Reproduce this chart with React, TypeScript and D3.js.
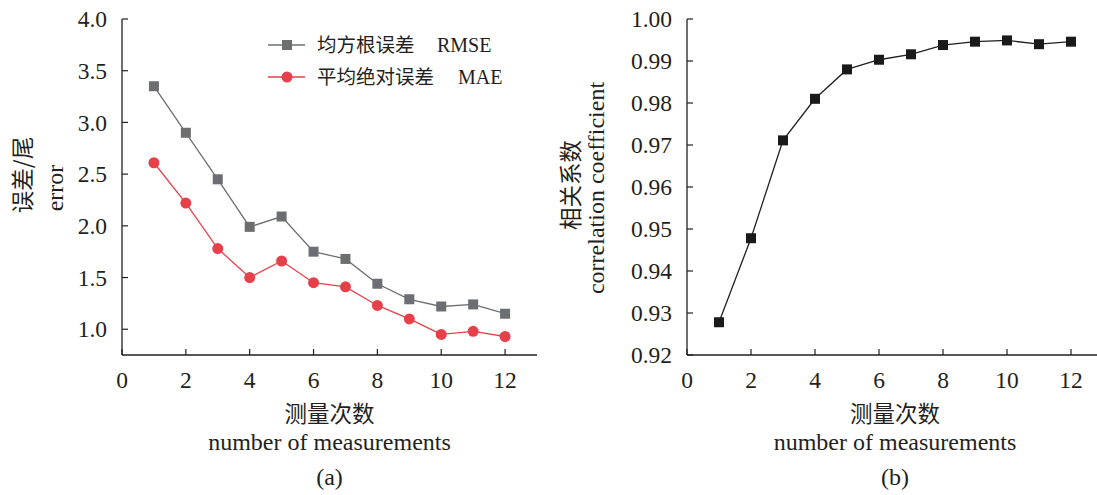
import React, { useEffect, useRef } from "react";
import * as d3 from "d3";

const counts = [1, 2, 3, 4, 5, 6, 7, 8, 9, 10, 11, 12];
const rmse = [3.35, 2.9, 2.45, 1.99, 2.09, 1.75, 1.68, 1.44, 1.29, 1.22, 1.24, 1.15];
const mae = [2.61, 2.22, 1.78, 1.5, 1.66, 1.45, 1.41, 1.23, 1.1, 0.95, 0.98, 0.93];
const corr = [0.9278, 0.9478, 0.9711, 0.981, 0.988, 0.9903, 0.9916, 0.9938, 0.9946, 0.9949, 0.994, 0.9946];

const xTicks = [0, 2, 4, 6, 8, 10, 12];
const errTicks = [1.0, 1.5, 2.0, 2.5, 3.0, 3.5, 4.0];
const corrTicks = [0.92, 0.93, 0.94, 0.95, 0.96, 0.97, 0.98, 0.99, 1.0];

const legendLabels = [
  { cn: "均方根误差", en: "RMSE" },
  { cn: "平均绝对误差", en: "MAE" },
];

const SERIF = "'Liberation Serif', 'Times New Roman', serif";
const CJK = "'Noto Sans CJK SC', sans-serif";
const INK = "#231f20";
const GRAY = "#6d6e71";
const RED = "#e8404a";

export default function App() {
  const ref = useRef<SVGSVGElement | null>(null);

  useEffect(() => {
    const svg = d3.select(ref.current);
    svg.selectAll("*").remove();

    function panel(opts: {
      x0: number; x1: number; y0: number; y1: number;
      yDomain: [number, number]; yTicks: number[]; fmt: (v: number) => string;
    }) {
      const x = d3.scaleLinear().domain([0, 13]).range([opts.x0, opts.x1]);
      const y = d3.scaleLinear().domain(opts.yDomain).range([opts.y1, opts.y0]);
      const g = svg.append("g");
      g.append("line").attr("x1", opts.x0).attr("x2", opts.x0).attr("y1", opts.y0).attr("y2", opts.y1)
        .attr("stroke", INK).attr("stroke-width", 1.3);
      g.append("line").attr("x1", opts.x0).attr("x2", opts.x1).attr("y1", opts.y1).attr("y2", opts.y1)
        .attr("stroke", INK).attr("stroke-width", 1.3);
      opts.yTicks.forEach((t) => {
        const yy = y(t);
        g.append("line").attr("x1", opts.x0).attr("x2", opts.x0 + 6).attr("y1", yy).attr("y2", yy)
          .attr("stroke", INK).attr("stroke-width", 1.2);
        g.append("text").attr("x", opts.x0 - 15).attr("y", yy).attr("dy", "0.35em")
          .attr("text-anchor", "end").attr("font-family", SERIF).attr("font-size", 23.5)
          .attr("fill", INK).text(opts.fmt(t));
      });
      xTicks.forEach((t) => {
        const xx = x(t);
        g.append("line").attr("x1", xx).attr("x2", xx).attr("y1", opts.y1).attr("y2", opts.y1 - 6)
          .attr("stroke", INK).attr("stroke-width", 1.2);
        g.append("text").attr("x", xx).attr("y", opts.y1 + 33)
          .attr("text-anchor", "middle").attr("font-family", SERIF).attr("font-size", 23.5)
          .attr("fill", INK).text(String(t));
      });
      const cx = (opts.x0 + x(13)) / 2;
      g.append("text").attr("x", cx).attr("y", 422).attr("text-anchor", "middle")
        .attr("font-family", CJK).attr("font-size", 22.5).attr("fill", INK).text("测量次数");
      g.append("text").attr("x", cx).attr("y", 450).attr("text-anchor", "middle")
        .attr("font-family", SERIF).attr("font-size", 24).attr("fill", INK).text("number of measurements");
      return { x, y, g, cx };
    }

    // Panel (a)
    const a = panel({ x0: 122, x1: 537, y0: 19, y1: 355, yDomain: [0.751, 4.0], yTicks: errTicks, fmt: (v) => v.toFixed(1) });
    a.g.append("text").attr("x", a.cx).attr("y", 485).attr("text-anchor", "middle")
      .attr("font-family", SERIF).attr("font-size", 24).attr("fill", INK).text("(a)");
    a.g.append("text").attr("transform", "translate(21,175) rotate(-90)").attr("text-anchor", "middle")
      .attr("dominant-baseline", "central").attr("font-family", CJK).attr("font-size", 22.5).attr("fill", INK)
      .text("误差/尾");
    a.g.append("text").attr("transform", "translate(55,188) rotate(-90)").attr("text-anchor", "middle")
      .attr("dominant-baseline", "central").attr("font-family", SERIF).attr("font-size", 24).attr("fill", INK)
      .text("error");

    const lineA = (vals: number[]) =>
      d3.line<number>().x((_, i) => a.x(counts[i])).y((d) => a.y(d))(vals) as string;
    a.g.append("path").attr("d", lineA(rmse)).attr("fill", "none").attr("stroke", GRAY).attr("stroke-width", 1.3);
    a.g.append("path").attr("d", lineA(mae)).attr("fill", "none").attr("stroke", RED).attr("stroke-width", 1.3);
    rmse.forEach((v, i) => {
      a.g.append("rect").attr("x", a.x(counts[i]) - 5).attr("y", a.y(v) - 5).attr("width", 10).attr("height", 10)
        .attr("fill", GRAY);
    });
    mae.forEach((v, i) => {
      a.g.append("circle").attr("cx", a.x(counts[i])).attr("cy", a.y(v)).attr("r", 5.5).attr("fill", RED);
    });

    // Legend
    const legY = [45, 77];
    legendLabels.forEach((l, i) => {
      const color = i === 0 ? GRAY : RED;
      const yy = legY[i];
      a.g.append("line").attr("x1", 268).attr("x2", 305).attr("y1", yy).attr("y2", yy)
        .attr("stroke", color).attr("stroke-width", 1.3);
      if (i === 0) {
        a.g.append("rect").attr("x", 282).attr("y", yy - 5).attr("width", 10).attr("height", 10).attr("fill", color);
      } else {
        a.g.append("circle").attr("cx", 287).attr("cy", yy).attr("r", 5.5).attr("fill", color);
      }
      a.g.append("text").attr("x", 317).attr("y", yy).attr("dy", "0.36em").attr("font-family", CJK)
        .attr("font-size", 19.5).attr("fill", INK).text(l.cn);
      a.g.append("text").attr("x", i === 0 ? 437 : 458).attr("y", yy).attr("dy", "0.35em").attr("font-family", SERIF)
        .attr("font-size", 20).attr("fill", INK).text(l.en);
    });

    // Panel (b)
    const b = panel({ x0: 687, x1: 1103, y0: 19, y1: 355, yDomain: [0.92, 1.0], yTicks: corrTicks, fmt: (v) => v.toFixed(2) });
    b.g.append("text").attr("x", b.cx).attr("y", 485).attr("text-anchor", "middle")
      .attr("font-family", SERIF).attr("font-size", 24).attr("fill", INK).text("(b)");
    b.g.append("text").attr("transform", "translate(569,185) rotate(-90)").attr("text-anchor", "middle")
      .attr("dominant-baseline", "central").attr("font-family", CJK).attr("font-size", 22.5).attr("fill", INK)
      .text("相关系数");
    b.g.append("text").attr("transform", "translate(596,188) rotate(-90)").attr("text-anchor", "middle")
      .attr("dominant-baseline", "central").attr("font-family", SERIF).attr("font-size", 24).attr("fill", INK)
      .text("correlation coefficient");
    const lineB = d3.line<number>().x((_, i) => b.x(counts[i])).y((d) => b.y(d))(corr) as string;
    b.g.append("path").attr("d", lineB).attr("fill", "none").attr("stroke", INK).attr("stroke-width", 1.3);
    corr.forEach((v, i) => {
      b.g.append("rect").attr("x", b.x(counts[i]) - 5).attr("y", b.y(v) - 5).attr("width", 10).attr("height", 10)
        .attr("fill", "#1a1a1a");
    });
  }, []);

  return (
    <svg
      ref={ref}
      width={1097}
      height={495}
      style={{ position: "absolute", left: 0, top: 0, background: "#fff", display: "block" }}
    />
  );
}
